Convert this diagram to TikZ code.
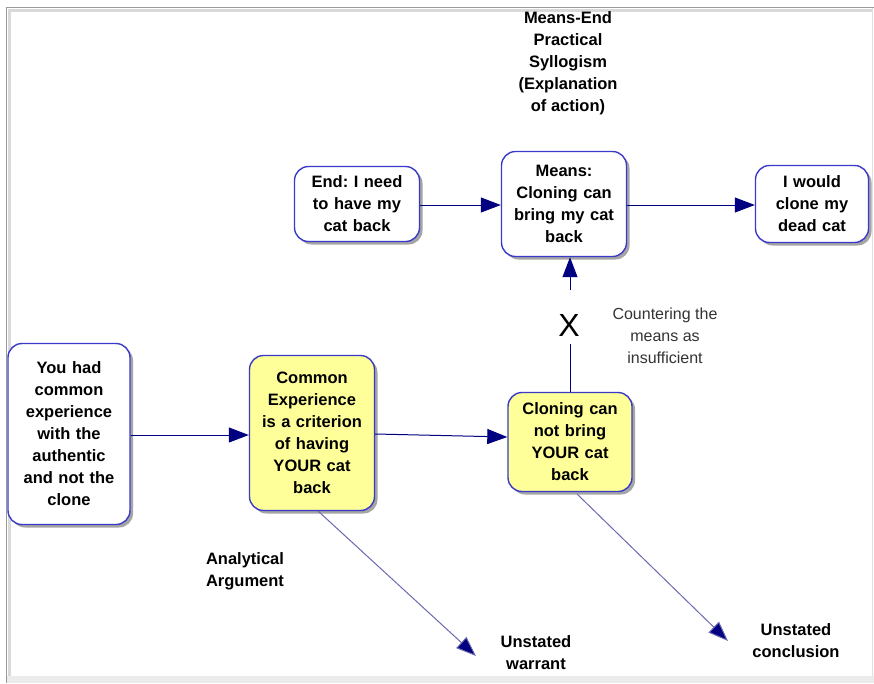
\documentclass[tikz,border=0pt]{standalone}
\usepackage{fontspec}
\setmainfont{Liberation Sans}
\usetikzlibrary{arrows.meta,shadows}
\definecolor{boxblue}{HTML}{3A3AC8}
\definecolor{navy}{HTML}{000080}
\definecolor{diag}{HTML}{6A6AB0}
\definecolor{yel}{HTML}{FFFF99}
\definecolor{frame}{HTML}{9A9A9A}
\frenchspacing
\begin{document}
\begin{tikzpicture}[x=1pt,y=-1pt,
  box/.style={draw=boxblue, line width=1.4pt, rounded corners=14pt, fill=white,
    align=center, font=\bfseries\fontsize{16.5}{22}\selectfont, inner sep=0pt,
    drop shadow={shadow xshift=3pt, shadow yshift=-3pt, opacity=0.5, fill=black!70}},
  ybox/.style={box, fill=yel},
  conn/.style={draw=navy, line width=1pt, -{Triangle[length=20pt,width=15pt]}},
  dconn/.style={draw=diag, line width=1pt, -{Triangle[length=20pt,width=15pt,fill=navy]}},
  lbl/.style={align=center, font=\bfseries\fontsize{16.5}{22}\selectfont, inner sep=0pt},
  note/.style={align=center, font=\fontsize{16}{22}\selectfont, text=black!80, inner sep=0pt}]
\useasboundingbox (0,0) rectangle (874,683);
\fill[white] (0,0) rectangle (874,683);
% frame
\fill[black!8] (7,676) rectangle (874,683);
\draw[frame, line width=1.5pt] (6,7.5) -- (874,7.5);
\draw[frame, line width=1.5pt] (6.5,7) -- (6.5,683);
\draw[black!12, line width=0.8pt] (872.5,8) -- (872.5,676);
\draw[black!15, line width=3pt] (8,10) -- (872,10);
\draw[black!15, line width=3pt] (9,9) -- (9,676);

% nodes
\node[box, minimum width=125pt, minimum height=75pt, text width=117pt] (endn) at (357,204)
  {End: I need\\to have my\\cat back};
\node[box, minimum width=125pt, minimum height=105pt, text width=117pt] (means) at (564,204)
  {Means:\\Cloning can\\bring my cat\\back};
\node[box, minimum width=113pt, minimum height=77pt, text width=107pt] (clone) at (812,204)
  {I would\\clone my\\dead cat};
\node[box, minimum width=122pt, minimum height=181pt, text width=116pt] (youhad) at (69,434)
  {You had\\common\\experience\\with the\\authentic\\and not the\\clone};
\node[ybox, minimum width=125pt, minimum height=155pt, text width=117pt] (common) at (312,433)
  {Common\\Experience\\is a criterion\\of having\\YOUR cat\\back};
\node[ybox, minimum width=124pt, minimum height=99pt, text width=116pt] (cannot) at (570,442)
  {Cloning can\\not bring\\YOUR cat\\back};

% labels
\node[lbl] (title) at (568,63) {Means-End\\Practical\\Syllogism\\(Explanation\\of action)};
\node[lbl] (analyt) at (245,571) {Analytical\\Argument};
\node[lbl] (warrant) at (536,653) {Unstated\\warrant};
\node[lbl] (concl) at (796,641) {Unstated\\conclusion};
\node[note] (counter) at (665,336) {Countering the\\means as\\insufficient};
\node[font=\fontsize{32}{32}\selectfont, inner sep=0pt] (xmark) at (569,325) {X};

\coordinate (xlow) at (570,344);
\coordinate (xhigh) at (570,290);
\coordinate (wend) at (476,656);
\coordinate (cend) at (728,641);
\coordinate (cstart) at (577,494);
\coordinate (wstart) at (318,511);

% connectors
\draw[conn] (youhad.east |- 0,435) -- (common.west |- 0,435);
\draw[conn] (common.east |- 0,434) -- (cannot.west |- 0,437);
\draw[conn] (endn.east |- 0,205) -- (means.west |- 0,205);
\draw[conn] (means.east |- 0,205) -- (clone.west |- 0,205);
\draw[draw=navy, line width=1pt] (cannot.north -| xlow) -- (xlow);
\draw[conn] (xhigh) -- (means.south -| xhigh);
\draw[dconn] (wstart) -- (wend);
\draw[dconn] (cstart) -- (cend);
\end{tikzpicture}
\end{document}
